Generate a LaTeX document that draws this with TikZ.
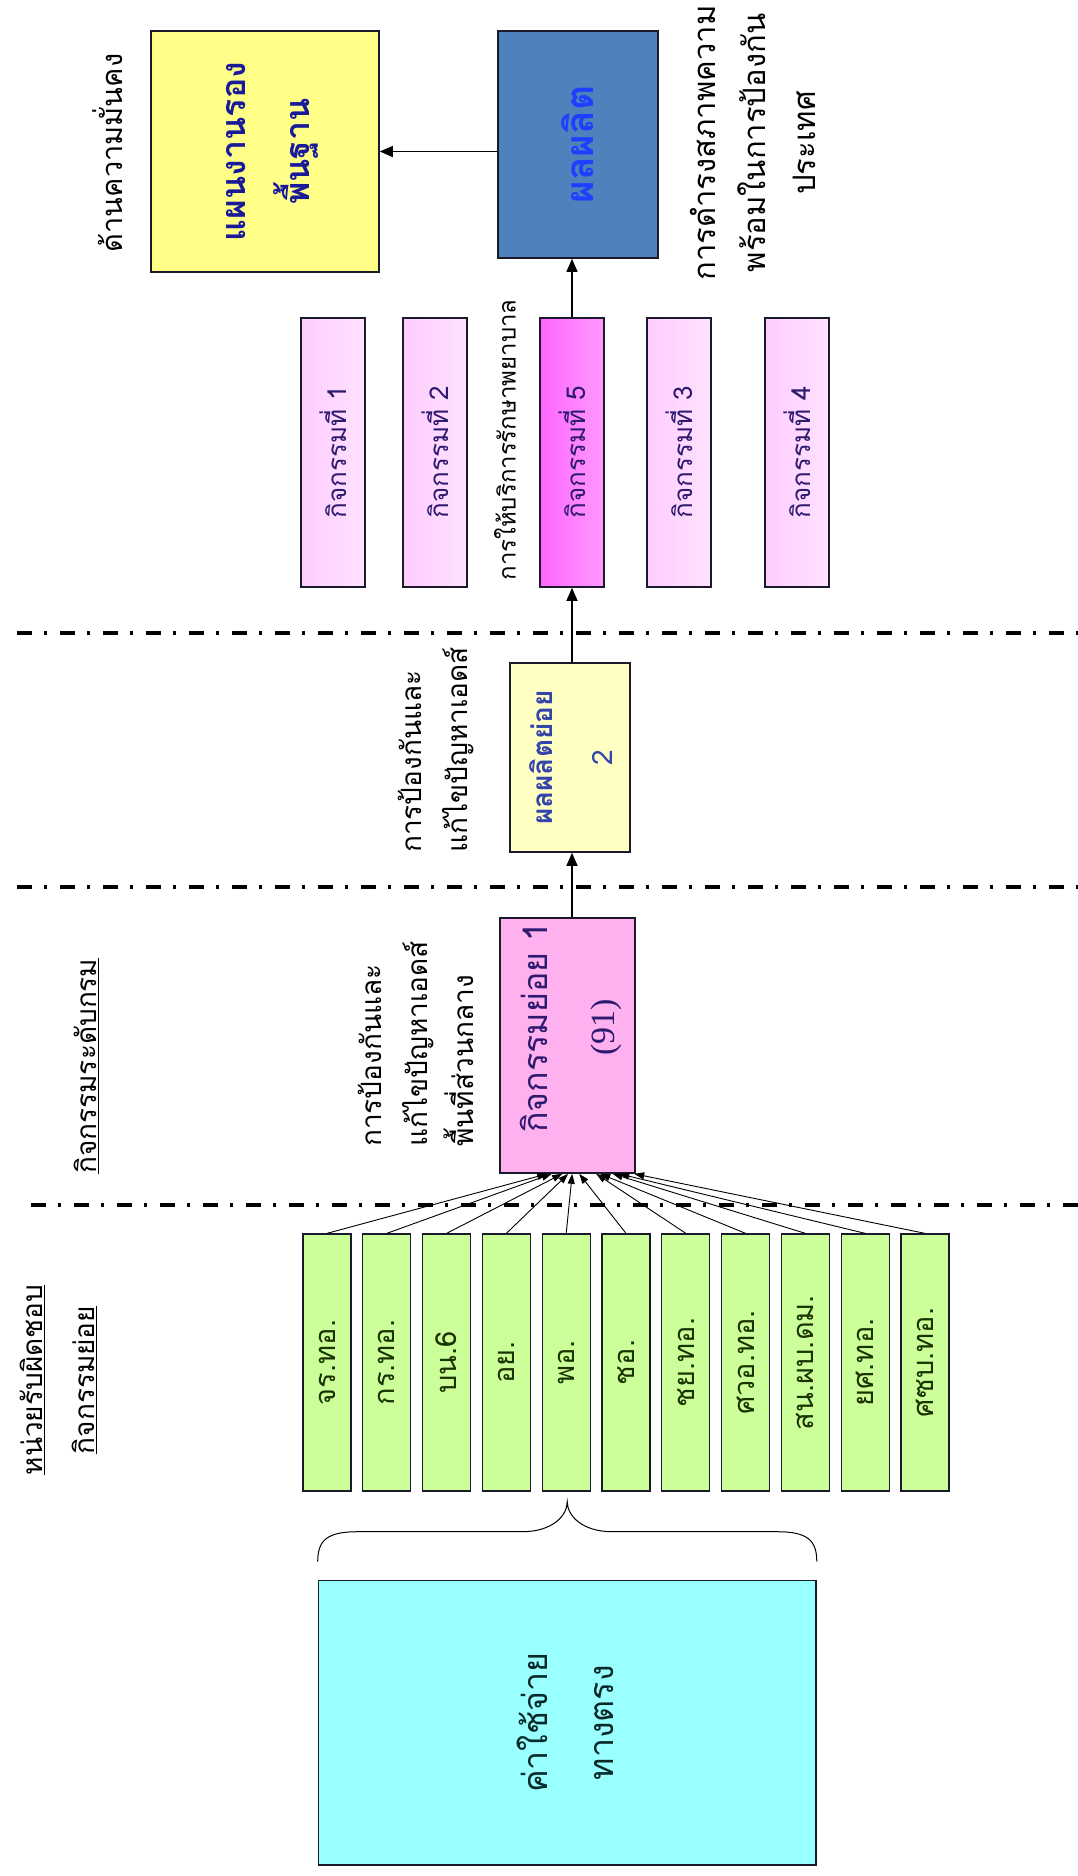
\documentclass[tikz,border=0pt]{standalone}
\usepackage{fontspec}
\usepackage{graphicx}
\newfontfamily\thai[Script=Thai]{Loma}
\newfontfamily\numserif{Liberation Serif}
\usetikzlibrary{arrows.meta,calc}
\definecolor{planfill}{HTML}{FFFF88}
\definecolor{prodfill}{HTML}{4F81BD}
\definecolor{actlight}{HTML}{FFCCFF}
\definecolor{actlight2}{HTML}{FFE2FF}
\definecolor{actdark}{HTML}{FF66FF}
\definecolor{actdark2}{HTML}{FF99FF}
\definecolor{subfill}{HTML}{FFB0EE}
\definecolor{syfill}{HTML}{FFFFC4}
\definecolor{greenfill}{HTML}{CCFF99}
\definecolor{costfill}{HTML}{99FFFF}
\definecolor{boxline}{HTML}{1A1A2A}
\definecolor{acttext}{HTML}{2E1A6E}
\definecolor{plantext}{HTML}{1A1A99}
\definecolor{prodtext}{HTML}{1F3FFF}
\definecolor{sytext}{HTML}{3344AA}
\definecolor{greentext}{HTML}{1A3300}
\definecolor{costtext}{HTML}{0A2A2A}
\newcommand\rotT[1]{\rotatebox{90}{#1}}
\tikzset{
  box/.style={draw=boxline, line width=1.6pt, inner sep=0pt},
  actbox/.style={box, minimum width=64pt, minimum height=269pt, left color=actlight, right color=actlight2},
  gbox/.style={box, line width=1.3pt, fill=greenfill, minimum width=48pt, minimum height=257pt},
  arr/.style={-{Triangle[length=13pt,width=11pt]}, line width=1.3pt},
  farr/.style={-{Triangle[length=10pt,width=7pt]}, line width=0.9pt},
  sepline/.style={line width=4pt, dash pattern=on 15pt off 12pt on 3pt off 13pt},
  note/.style={rotate=90, inner sep=0pt, font=\thai\fontsize{28}{46}\selectfont},
}
\begin{document}
\begin{tikzpicture}[x=1pt,y=-1pt]
\fill[white] (0,0) rectangle (1078,1876);
\useasboundingbox (0,0) rectangle (1078,1876);

% separators
\draw[sepline] (17,633) -- (1078,633);
\draw[sepline] (17,887) -- (1078,887);
\draw[sepline] (31,1205) -- (1078,1205);

% top row
\node[box, fill=planfill, minimum width=228pt, minimum height=241pt] (plan) at (265,151.5)
  {\rotT{\thai\bfseries\fontsize{34}{64}\selectfont\color{plantext}\begin{tabular}{@{}c@{}}แผนงานรอง\\พื้นฐาน\end{tabular}}};
\node[box, fill=prodfill, minimum width=160pt, minimum height=227pt] (prod) at (578,144.5)
  {\rotT{\thai\bfseries\fontsize{39}{44}\selectfont\color{prodtext}ผลผลิต}};
\node[note, font=\thai\fontsize{29}{36}\selectfont] (secnote) at (108,153) {ด้านความมั่นคง};
\node[note, align=center, font=\thai\fontsize{31}{50}\selectfont] (prodnote) at (753,143) {การดำรงสภาพความ\\พร้อมในการป้องกัน\\ประเทศ};

% activities
\node[actbox] (act1) at (333,452.5) {\rotT{\thai\fontsize{26}{30}\selectfont\color{acttext}กิจกรรมที่ 1}};
\node[actbox] (act2) at (435,452.5) {\rotT{\thai\fontsize{26}{30}\selectfont\color{acttext}กิจกรรมที่ 2}};
\node[actbox, left color=actdark, right color=actdark2] (act5) at (572,452.5) {\rotT{\thai\fontsize{26}{30}\selectfont\color{acttext}กิจกรรมที่ 5}};
\node[actbox] (act3) at (679,452.5) {\rotT{\thai\fontsize{26}{30}\selectfont\color{acttext}กิจกรรมที่ 3}};
\node[actbox] (act4) at (797,452.5) {\rotT{\thai\fontsize{26}{30}\selectfont\color{acttext}กิจกรรมที่ 4}};
\node[note, font=\thai\fontsize{24}{30}\selectfont] (act5note) at (505,440) {การให้บริการรักษาพยาบาล};

% sub-output
\node[box, fill=syfill, minimum width=114pt, minimum height=189pt] (sy) at (570,757.5)
  {\rotT{\thai\fontsize{28}{60}\selectfont\color{sytext}\begin{tabular}{@{}c@{}}\bfseries ผลผลิตย่อย\\2\end{tabular}}};
\node[note, anchor=south west, align=left] (synote) at (474,853) {การป้องกันและ\\แก้ไขปัญหาเอดส์};

% sub-activity
\node[box, fill=subfill, minimum width=135pt, minimum height=255pt] (sub) at (567.5,1045.5)
  {\rotT{\hspace*{36pt}\thai\fontsize{34}{67}\selectfont\color{acttext}\begin{tabular}{@{}c@{}}กิจกรรมย่อย 1\\{\numserif (91)}\end{tabular}}};
\node[note, anchor=south west, align=left] (subnote) at (474,1147) {การป้องกันและ\\แก้ไขปัญหาเอดส์\\พื้นที่ส่วนกลาง};

% headings
\node[note, anchor=west] (hdgdept) at (86,1174) {\underline{กิจกรรมระดับกรม}};
\node[note, align=center, font=\thai\fontsize{28}{52}\selectfont] (hdgunit) at (58,1380) {\underline{หน่วยรับผิดชอบ}\\\underline{กิจกรรมย่อย}};

% main arrows
\draw[arr] (prod.west |- plan.east) -- (plan.east);
\draw[arr] (act5.north) -- (act5.north |- prod.south);
\draw[arr] (sy.north -| act5.south) -- (act5.south);
\draw[arr] (sub.north -| act5.south) -- (sy.south -| act5.south);

% responsible units
\foreach \i/\lab/\tx in {1/จร.ทอ./548, 2/กร.ทอ./552.5, 3/บน.6/563, 4/อย./569, 5/พอ./573, 6/ชอ./580,
  7/ชย.ทอ./597, 8/ศวอ.ทอ./601, 9/สน.ผบ.ดม./613.5, 10/ยศ.ทอ./620, 11/ศซบ.ทอ./635}{
  \node[gbox] (g\i) at ({327+59.8*(\i-1)},1362.5) {\rotT{\thai\fontsize{29}{34}\selectfont\color{greentext}\lab}};
  \coordinate (t\i) at ($(sub.south west)+(\tx-500,0)$);
  \draw[farr] (g\i.north) -- (t\i);
}

% direct cost
\node[box, fill=costfill, minimum width=497.5pt, minimum height=284.5pt] (cost) at (567.25,1722.75)
  {\rotT{\thai\fontsize{34}{66}\selectfont\color{costtext}\begin{tabular}{@{}c@{}}ค่าใช้จ่าย\\ทางตรง\end{tabular}}};
\draw[line width=1pt]
  ($(cost.north west)+(0,-18)$) .. controls +(0,-22) and +(-30,0) .. ($(cost.north west)+(40,-48)$)
  -- ($(cost.north)+(-45,-48)$) .. controls +(30,0) and +(0,14) .. ($(cost.north)+(0,-78)$)
  .. controls +(0,14) and +(-30,0) .. ($(cost.north)+(45,-48)$)
  -- ($(cost.north east)+(-40,-48)$) .. controls +(30,0) and +(0,-22) .. ($(cost.north east)+(0,-18)$);
\end{tikzpicture}
\end{document}
